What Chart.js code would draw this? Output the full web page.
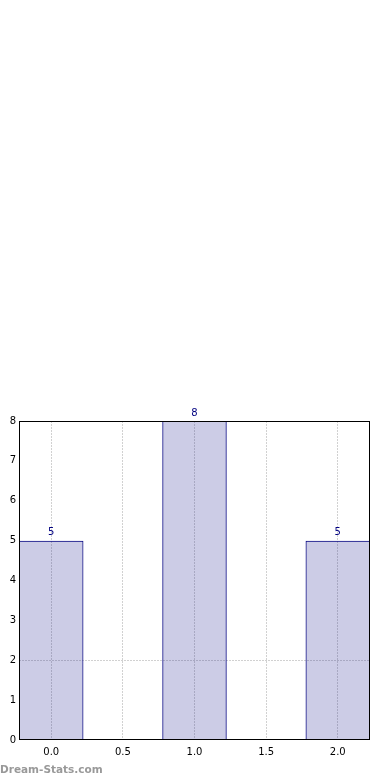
<!DOCTYPE html>
<html>
<head>
<meta charset="utf-8">
<script src="https://cdn.jsdelivr.net/npm/chart.js@4/dist/chart.umd.min.js"></script>
<style>
	html, body { margin: 0; padding: 0; background: #fff; }
	#wrap { position: relative; width: 390px; height: 780px; }
	#mark {
		position: absolute; left: 0; top: 763px;
		font: bold 10.5px "DejaVu Sans", sans-serif; color: #999;
	}
</style>
</head>
<body>
<div id="wrap">
	<canvas id="chart" width="390" height="780"></canvas>
	<div id="mark">Dream-Stats.com</div>
</div>
<script>
var positions = [0, 1, 2];
var counts = [5, 8, 5];
var xTicks = [0, 0.5, 1, 1.5, 2];
var yTicks = [0, 1, 2, 3, 4, 5, 6, 7, 8];

var navy = '#000080';
var dotted = 'rgba(0, 0, 0, 0.18)';

var valueLabels = {
	id: 'valueLabels',
	afterDatasetsDraw: function (chart) {
		var ctx = chart.ctx;
		var meta = chart.getDatasetMeta(0);
		ctx.save();
		ctx.fillStyle = navy;
		ctx.font = '10px "DejaVu Sans", sans-serif';
		ctx.textAlign = 'center';
		ctx.textBaseline = 'bottom';
		meta.data.forEach(function (bar, i) {
			ctx.fillText(String(counts[i]), bar.x, bar.y - 3);
		});
		ctx.restore();
	}
};

var frame = {
	id: 'frame',
	afterDraw: function (chart) {
		var a = chart.chartArea;
		var ctx = chart.ctx;
		ctx.save();
		ctx.strokeStyle = '#000';
		ctx.lineWidth = 1;
		ctx.strokeRect(Math.round(a.left) + 0.5, Math.round(a.top) + 0.5,
			Math.round(a.right - a.left) - 1, Math.round(a.bottom - a.top) - 1);
		ctx.restore();
	}
};

new Chart(document.getElementById('chart').getContext('2d'), {
	type: 'bar',
	data: {
		datasets: [{
			data: positions.map(function (p, i) { return { x: p, y: counts[i] }; }),
			backgroundColor: 'rgba(0, 0, 128, 0.2)',
			borderColor: navy,
			borderWidth: 1,
			categoryPercentage: 1,
			// the ruler uses the 0.5 tick spacing, so 0.9 of it = 0.45 units
			barPercentage: 0.9
		}]
	},
	options: {
		responsive: false,
		animation: false,
		events: [],
		layout: { padding: { top: 421, right: 20, left: 0, bottom: 0 } },
		plugins: { legend: { display: false }, tooltip: { enabled: false } },
		scales: {
			x: {
				type: 'linear',
				min: -0.225,
				max: 2.225,
				offset: false,
				z: 1,
				afterFit: function (s) { s.height = 40; },
				afterBuildTicks: function (s) {
					s.ticks = xTicks.map(function (v) { return { value: v }; });
				},
				ticks: {
					color: '#000',
					padding: 6,
					font: { family: 'DejaVu Sans', size: 10 },
					callback: function (v) { return Number(v).toFixed(1); }
				},
				grid: { color: dotted, offset: false, drawTicks: false },
				border: { display: false, dash: [2, 1] }
			},
			y: {
				min: 0,
				max: 8,
				z: 1,
				afterFit: function (s) { s.width = 19; },
				afterBuildTicks: function (s) {
					s.ticks = yTicks.map(function (v) { return { value: v }; });
				},
				ticks: {
					color: '#000',
					padding: 3,
					font: { family: 'DejaVu Sans', size: 10 }
				},
				grid: {
					color: function (c) { return c.tick && c.tick.value === 2 ? dotted : 'rgba(0,0,0,0)'; },
					drawTicks: false
				},
				border: { display: false, dash: [2, 1] }
			}
		}
	},
	plugins: [valueLabels, frame]
});
</script>
</body>
</html>
